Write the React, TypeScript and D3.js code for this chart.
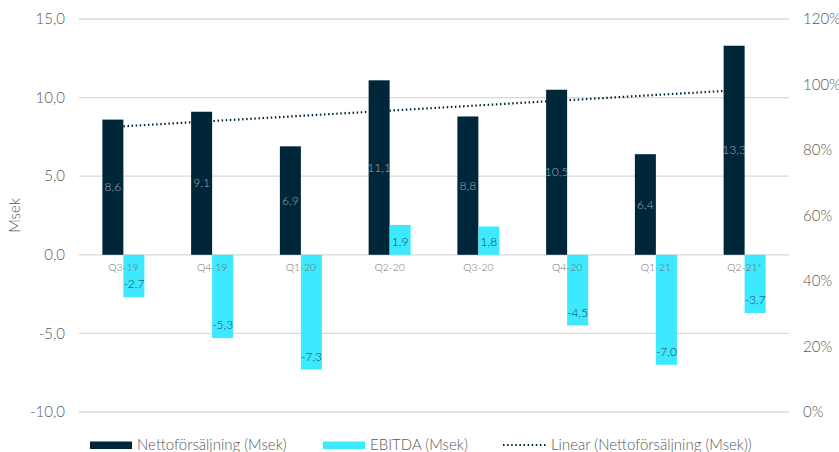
import React from "react";
import * as d3 from "d3";

const categories = ["Q3-19", "Q4-19", "Q1-20", "Q2-20", "Q3-20", "Q4-20", "Q1-21", "Q2-21*"];
const nettoforsaljning = [8.6, 9.1, 6.9, 11.1, 8.8, 10.5, 6.4, 13.3];
const ebitda = [-2.7, -5.3, -7.3, 1.9, 1.8, -4.5, -7.0, -3.7];
const leftTicks = [-10, -5, 0, 5, 10, 15];
const rightTicks = [0, 0.2, 0.4, 0.6, 0.8, 1.0, 1.2];

const NAVY = "#00263a";
const CYAN = "#3de9ff";
const FONT = "Lato, 'Open Sans', sans-serif";

const W = 839, H = 452;
const left = 79, right = 789, top = 19, bottom = 412;

function fmt(v: number) {
  return v.toFixed(1).replace(".", ",");
}

export default function App() {
  const x = d3.scaleBand<string>().domain(categories).range([left, right]);
  const y = d3.scaleLinear().domain([-10, 15]).range([bottom, top]);
  const y2 = d3.scaleLinear().domain([0, 1.2]).range([bottom, top]);
  const barW = 21;

  // linear trend (least squares) of nettoförsäljning
  const n = nettoforsaljning.length;
  const xs = d3.range(n);
  const mx = d3.mean(xs)!;
  const my = d3.mean(nettoforsaljning)!;
  const slope = d3.sum(xs.map((i) => (i - mx) * (nettoforsaljning[i] - my))) / d3.sum(xs.map((i) => (i - mx) ** 2));
  const icpt = my - slope * mx;
  const trend = xs.map((i) => [x(categories[i])! + x.bandwidth() / 2, y(icpt + slope * i)] as [number, number]);
  const line = d3.line();

  return (
    <svg width={W} height={H} style={{ position: "absolute", left: 0, top: 0, background: "#fff" }} fontFamily={FONT}>
      {leftTicks.map((t) => (
        <g key={t}>
          <line x1={left} x2={right} y1={y(t)} y2={y(t)} stroke="#d9d9d9" strokeWidth={1.3} />
          <text x={65} y={y(t)} dy="0.35em" textAnchor="end" fontSize={15} fontWeight={300} fill="#595959">{fmt(t)}</text>
        </g>
      ))}
      {rightTicks.map((t) => (
        <text key={t} x={803} y={y2(t)} dy="0.35em" textAnchor="start" fontSize={15} fontWeight={300} fill="#595959">
          {Math.round(t * 100)}%
        </text>
      ))}
      <text transform={`translate(20,${(top + bottom) / 2}) rotate(-90)`} textAnchor="middle" fontSize={15} fontWeight={300} fill="#595959">Msek</text>

      <path d={line(trend)!} fill="none" stroke={NAVY} strokeWidth={2.2} strokeDasharray="1.5 2.6" />

      {categories.map((c, i) => {
        const cx = x(c)! + x.bandwidth() / 2;
        const v1 = nettoforsaljning[i];
        const v2 = ebitda[i];
        return (
          <g key={c}>
            <rect x={cx - barW} y={y(Math.max(0, v1))} width={barW} height={Math.abs(y(v1) - y(0))} fill={NAVY} />
            <rect x={cx} y={y(Math.max(0, v2))} width={barW} height={Math.abs(y(v2) - y(0))} fill={CYAN} />
          </g>
        );
      })}
      {categories.map((c, i) => {
        const cx = x(c)! + x.bandwidth() / 2;
        const v1 = nettoforsaljning[i];
        const v2 = ebitda[i];
        const ly2 = v2 < 0 ? y(v2) - 13 : y(0) - 13;
        return (
          <g key={c + "l"}>
            <text x={cx} y={y(0) + 13} dy="0.35em" textAnchor="middle" fontSize={10.5} fontWeight={300} fill="#6f6f6f">{c}</text>
            <text x={cx - barW / 2} y={(y(v1) + y(0)) / 2} dy="0.35em" textAnchor="middle" fontSize={12} fontWeight={300} fill="#a6adb4">{fmt(v1)}</text>
            <text x={cx + barW / 2} y={ly2} dy="0.35em" textAnchor="middle" fontSize={12} fontWeight={300} fill="#1f3b4d">{fmt(v2)}</text>
          </g>
        );
      })}

      {/* legend */}
      <rect x={90} y={441.5} width={42} height={7.5} fill={NAVY} />
      <text x={137} y={445} dy="0.35em" fontSize={15} fontWeight={300} fill="#595959">Nettoförsäljning (Msek)</text>
      <rect x={323} y={441.5} width={42} height={7.5} fill={CYAN} />
      <text x={370} y={445} dy="0.35em" fontSize={15} fontWeight={300} fill="#595959">EBITDA (Msek)</text>
      <line x1={503} x2={547} y1={445} y2={445} stroke={NAVY} strokeWidth={2.2} strokeDasharray="1.5 2.6" />
      <text x={551} y={445} dy="0.35em" fontSize={15} fontWeight={300} fill="#595959">Linear (Nettoförsäljning (Msek))</text>
    </svg>
  );
}
